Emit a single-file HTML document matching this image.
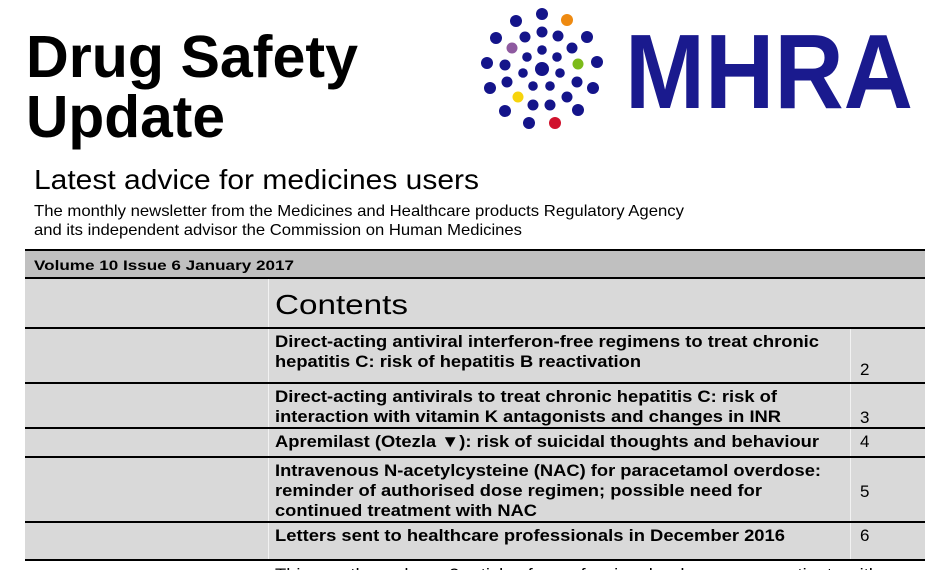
<!DOCTYPE html>
<html><head><meta charset="utf-8"><style>
html,body{margin:0;padding:0;background:#fff;width:936px;height:570px;overflow:hidden}
svg{display:block}
text{font-family:"Liberation Sans",sans-serif;fill:#000}
</style></head><body>
<svg width="936" height="570" viewBox="0 0 936 570" xmlns="http://www.w3.org/2000/svg">
<text x="26" y="77" font-size="59" font-weight="bold" textLength="332" lengthAdjust="spacingAndGlyphs">Drug Safety</text>
<text x="26" y="137" font-size="59" font-weight="bold" textLength="199" lengthAdjust="spacingAndGlyphs">Update</text>
<g fill="#14148a">
<circle cx="516" cy="21" r="6"/><circle cx="542" cy="14" r="6"/><circle cx="567" cy="20" r="6" fill="#ee8a11"/>
<circle cx="496" cy="38" r="6"/><circle cx="525" cy="37" r="5.5"/><circle cx="542" cy="32" r="5.5"/><circle cx="558" cy="36" r="5.5"/><circle cx="587" cy="37" r="6"/>
<circle cx="512" cy="48" r="5.5" fill="#8e5aa0"/><circle cx="542" cy="50" r="4.8"/><circle cx="572" cy="48" r="5.5"/>
<circle cx="487" cy="63" r="6"/><circle cx="505" cy="65" r="5.5"/><circle cx="527" cy="57" r="4.8"/><circle cx="557" cy="57" r="4.8"/><circle cx="578" cy="64" r="5.5" fill="#7cbb1a"/><circle cx="597" cy="62" r="6"/>
<circle cx="523" cy="73" r="4.8"/><circle cx="542" cy="69" r="7"/><circle cx="560" cy="73" r="4.8"/>
<circle cx="507" cy="82" r="5.5"/><circle cx="577" cy="82" r="5.5"/>
<circle cx="490" cy="88" r="6"/><circle cx="533" cy="86" r="4.8"/><circle cx="550" cy="86" r="4.8"/><circle cx="593" cy="88" r="6"/>
<circle cx="518" cy="97" r="5.5" fill="#f7d40c"/><circle cx="567" cy="97" r="5.5"/>
<circle cx="533" cy="105" r="5.5"/><circle cx="550" cy="105" r="5.5"/>
<circle cx="505" cy="111" r="6"/><circle cx="578" cy="110" r="6"/>
<circle cx="529" cy="123" r="6"/><circle cx="555" cy="123" r="6" fill="#d0122d"/>
</g>
<text x="625" y="108" font-size="106" font-weight="bold" style="fill:#1a1a8e" textLength="288" lengthAdjust="spacingAndGlyphs">MHRA</text>
<text x="34" y="189" font-size="28" textLength="445" lengthAdjust="spacingAndGlyphs">Latest advice for medicines users</text>
<text x="34" y="216" font-size="16" textLength="650" lengthAdjust="spacingAndGlyphs">The monthly newsletter from the Medicines and Healthcare products Regulatory Agency</text>
<text x="34" y="235" font-size="16" textLength="488" lengthAdjust="spacingAndGlyphs">and its independent advisor the Commission on Human Medicines</text>
<rect x="25" y="249" width="900" height="29" fill="#c0c0c0"/>
<rect x="25" y="278" width="900" height="282" fill="#d9d9d9"/>
<line x1="268.5" y1="278" x2="268.5" y2="560" stroke="#f2f2f2" stroke-width="1"/>
<line x1="850.5" y1="328" x2="850.5" y2="560" stroke="#f2f2f2" stroke-width="1"/>
<g stroke="#000" stroke-width="2">
<line x1="25" y1="250" x2="925" y2="250"/><line x1="25" y1="278" x2="925" y2="278"/>
<line x1="25" y1="328" x2="925" y2="328"/><line x1="25" y1="383" x2="925" y2="383"/>
<line x1="25" y1="428" x2="925" y2="428"/><line x1="25" y1="457" x2="925" y2="457"/>
<line x1="25" y1="522" x2="925" y2="522"/><line x1="25" y1="560" x2="925" y2="560"/>
</g>
<text x="34" y="270" font-size="14" font-weight="bold" textLength="260" lengthAdjust="spacingAndGlyphs">Volume 10  Issue 6 January 2017</text>
<text x="275" y="314" font-size="28" textLength="133" lengthAdjust="spacingAndGlyphs">Contents</text>
<g font-size="17" font-weight="bold">
<text x="275" y="347" textLength="544" lengthAdjust="spacingAndGlyphs">Direct-acting antiviral interferon-free regimens to treat chronic</text>
<text x="275" y="367" textLength="366" lengthAdjust="spacingAndGlyphs">hepatitis C: risk of hepatitis B reactivation</text>
<text x="275" y="402" textLength="502" lengthAdjust="spacingAndGlyphs">Direct-acting antivirals to treat chronic hepatitis C: risk of</text>
<text x="275" y="422" textLength="506" lengthAdjust="spacingAndGlyphs">interaction with vitamin K antagonists and changes in INR</text>
<text x="275" y="447" textLength="544" lengthAdjust="spacingAndGlyphs">Apremilast (Otezla ▼): risk of suicidal thoughts and behaviour</text>
<text x="275" y="476" textLength="546" lengthAdjust="spacingAndGlyphs">Intravenous N-acetylcysteine (NAC) for paracetamol overdose:</text>
<text x="275" y="496" textLength="487" lengthAdjust="spacingAndGlyphs">reminder of authorised dose regimen; possible need for</text>
<text x="275" y="516" textLength="262" lengthAdjust="spacingAndGlyphs">continued treatment with NAC</text>
<text x="275" y="541" textLength="510" lengthAdjust="spacingAndGlyphs">Letters sent to healthcare professionals in December 2016</text>
</g>
<g font-size="17">
<text x="860" y="375">2</text><text x="860" y="423">3</text><text x="860" y="447">4</text><text x="860" y="497">5</text><text x="860" y="541">6</text>
</g>
<text x="275" y="580" font-size="17" textLength="604" lengthAdjust="spacingAndGlyphs">This month, we have 2 articles for professionals who manage patients with</text>
</svg>
</body></html>
